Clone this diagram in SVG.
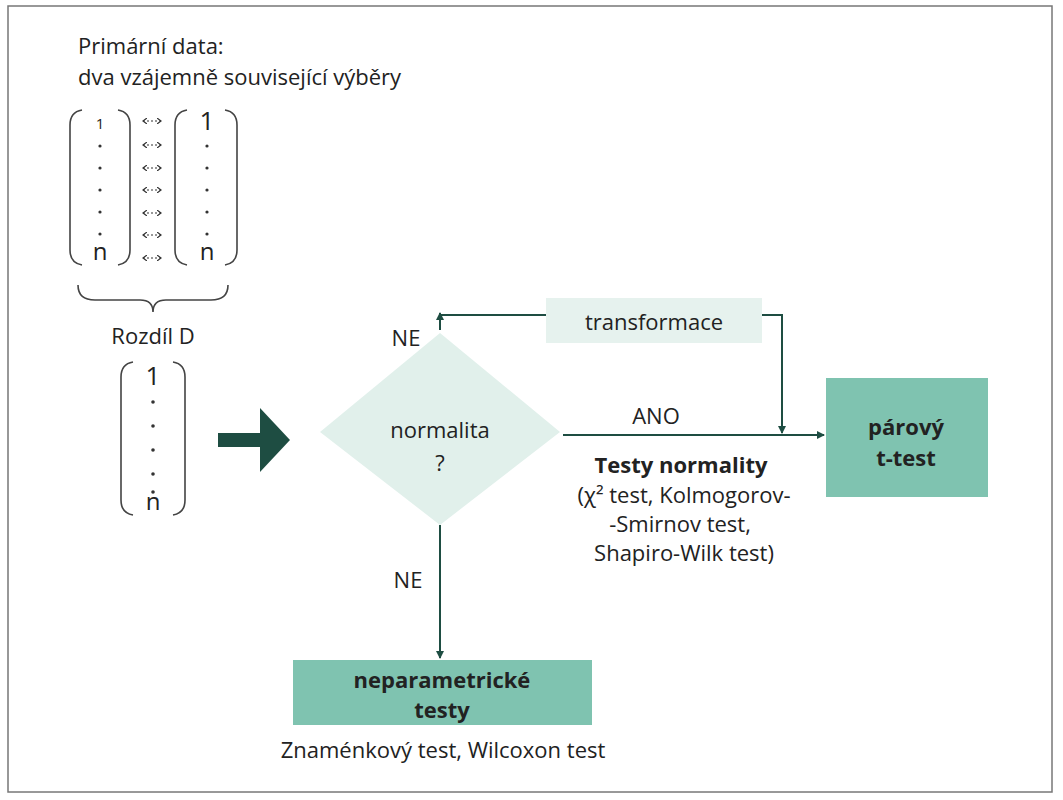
<svg xmlns="http://www.w3.org/2000/svg" width="1063" height="800" viewBox="0 0 1063 800">
<defs>
<marker id="ah" markerWidth="8" markerHeight="8" refX="7" refY="4" orient="auto" markerUnits="userSpaceOnUse"><path d="M0,0 L8,4 L0,8 Z" fill="#1e4d42"/></marker>
<marker id="sa" markerWidth="5" markerHeight="6" refX="4" refY="3" orient="auto-start-reverse" markerUnits="userSpaceOnUse"><path d="M0,0 L4,3 L0,6" fill="none" stroke="#333" stroke-width="1.2"/></marker>
</defs>
<style>
text{font-family:"Open Sans","Liberation Sans",Arial,sans-serif;fill:#222;font-size:22px}
.c{text-anchor:middle}
.b{font-weight:bold}
.par{fill:none;stroke:#444;stroke-width:1.6}
.ln{fill:none;stroke:#1e4d42;stroke-width:2}
.sm{fill:none;stroke:#333;stroke-width:1.2}
.dot{fill:#333}
</style>
<rect x="8" y="6" width="1044" height="786" fill="#fff" stroke="#777" stroke-width="1.5"/>
<g id="primary">
<text x="78" y="54">Primární data:</text>
<text x="78" y="85">dva vzájemně související výběry</text>
<path class="par" d="M82,110 Q70,112 70,125 V250 Q70,263 82,265"/>
<path class="par" d="M118,110 Q130,112 130,125 V250 Q130,263 118,265"/>
<path class="par" d="M187,110 Q175,112 175,125 V250 Q175,263 187,265"/>
<path class="par" d="M225,110 Q237,112 237,125 V250 Q237,263 225,265"/>
<text class="c" x="100" y="129" style="font-size:15px">1</text>
<text class="c" x="207" y="130" style="font-size:26px">1</text>
<g class="dot">
<circle cx="100" cy="146" r="1.6"/><circle cx="100" cy="168" r="1.6"/><circle cx="100" cy="190" r="1.6"/><circle cx="100" cy="212" r="1.6"/><circle cx="100" cy="234" r="1.6"/>
<circle cx="207" cy="146" r="1.6"/><circle cx="207" cy="168" r="1.6"/><circle cx="207" cy="190" r="1.6"/><circle cx="207" cy="212" r="1.6"/><circle cx="207" cy="234" r="1.6"/>
</g>
<text class="c" x="100" y="260" style="font-size:24px">n</text>
<text class="c" x="207" y="260" style="font-size:24px">n</text>
<g class="sm">
<path d="M143,121 H161" marker-start="url(#sa)" marker-end="url(#sa)" stroke-dasharray="2 2"/>
<path d="M143,145 H161" marker-start="url(#sa)" marker-end="url(#sa)" stroke-dasharray="2 2"/>
<path d="M143,168 H161" marker-start="url(#sa)" marker-end="url(#sa)" stroke-dasharray="2 2"/>
<path d="M143,190 H161" marker-start="url(#sa)" marker-end="url(#sa)" stroke-dasharray="2 2"/>
<path d="M143,213 H161" marker-start="url(#sa)" marker-end="url(#sa)" stroke-dasharray="2 2"/>
<path d="M143,235 H161" marker-start="url(#sa)" marker-end="url(#sa)" stroke-dasharray="2 2"/>
<path d="M143,258 H161" marker-start="url(#sa)" marker-end="url(#sa)" stroke-dasharray="2 2"/>
</g>
<path class="par" d="M78,285 Q78,300 95,300 H140 Q153,300 153,312 Q153,300 166,300 H211 Q228,300 228,285"/>
</g>
<g id="diff">
<text class="c" x="153" y="344">Rozdíl D</text>
<path class="par" d="M133,362 Q121,364 121,377 V500 Q121,513 133,515"/>
<path class="par" d="M173,362 Q185,364 185,377 V500 Q185,513 173,515"/>
<text class="c" x="153" y="385" style="font-size:26px">1</text>
<g class="dot"><circle cx="153" cy="402" r="1.8"/><circle cx="153" cy="426" r="1.8"/><circle cx="153" cy="450" r="1.8"/><circle cx="153" cy="474" r="1.8"/><circle cx="153" cy="492" r="1.8"/></g>
<text class="c" x="153" y="510" style="font-size:24px">n</text>
</g>
<g id="bigarrow"><path d="M218,433 H260 V408 L290,440 L260,472 V447 H218 Z" fill="#1e4d42"/></g>
<g id="normalita">
<path d="M440,333 L560,432 L440,525 L320,432 Z" fill="#e1f0eb"/>
<text class="c" x="440" y="438">normalita</text>
<text class="c" x="440" y="471">?</text>
</g>
<g id="transformace">
<rect x="546" y="298" width="216" height="45" fill="#e6f2ee"/>
<text class="c" x="654" y="330">transformace</text>
</g>
<g id="parovy">
<rect x="826" y="378" width="162" height="119" fill="#7fc3b0"/>
<text class="c b" x="906" y="435">párový</text>
<text class="c b" x="906" y="466">t-test</text>
</g>
<g id="neparam">
<rect x="293" y="660" width="299" height="65" fill="#7fc3b0"/>
<text class="c b" x="442" y="688">neparametrické</text>
<text class="c b" x="442" y="718">testy</text>
</g>
<g id="connectors">
<path class="ln" d="M546,315 H440 V330"/>
<path class="ln" d="M440,330 V313" marker-end="url(#ah)"/>
<path class="ln" d="M762,315 H782 V433" marker-end="url(#ah)"/>
<path class="ln" d="M563,435 H824" marker-end="url(#ah)"/>
<path class="ln" d="M440,525 V658" marker-end="url(#ah)"/>
</g>
<g id="labels">
<text class="c" x="406" y="346">NE</text>
<text class="c" x="656" y="424">ANO</text>
<text class="c" x="408" y="588">NE</text>
<text class="c b" x="681" y="473">Testy normality</text>
<text class="c" x="684" y="503">(χ² test, Kolmogorov-</text>
<text class="c" x="680" y="532">-Smirnov test,</text>
<text class="c" x="684" y="561">Shapiro-Wilk test)</text>
<text class="c" x="443" y="758">Znaménkový test, Wilcoxon test</text>
</g>
</svg>
